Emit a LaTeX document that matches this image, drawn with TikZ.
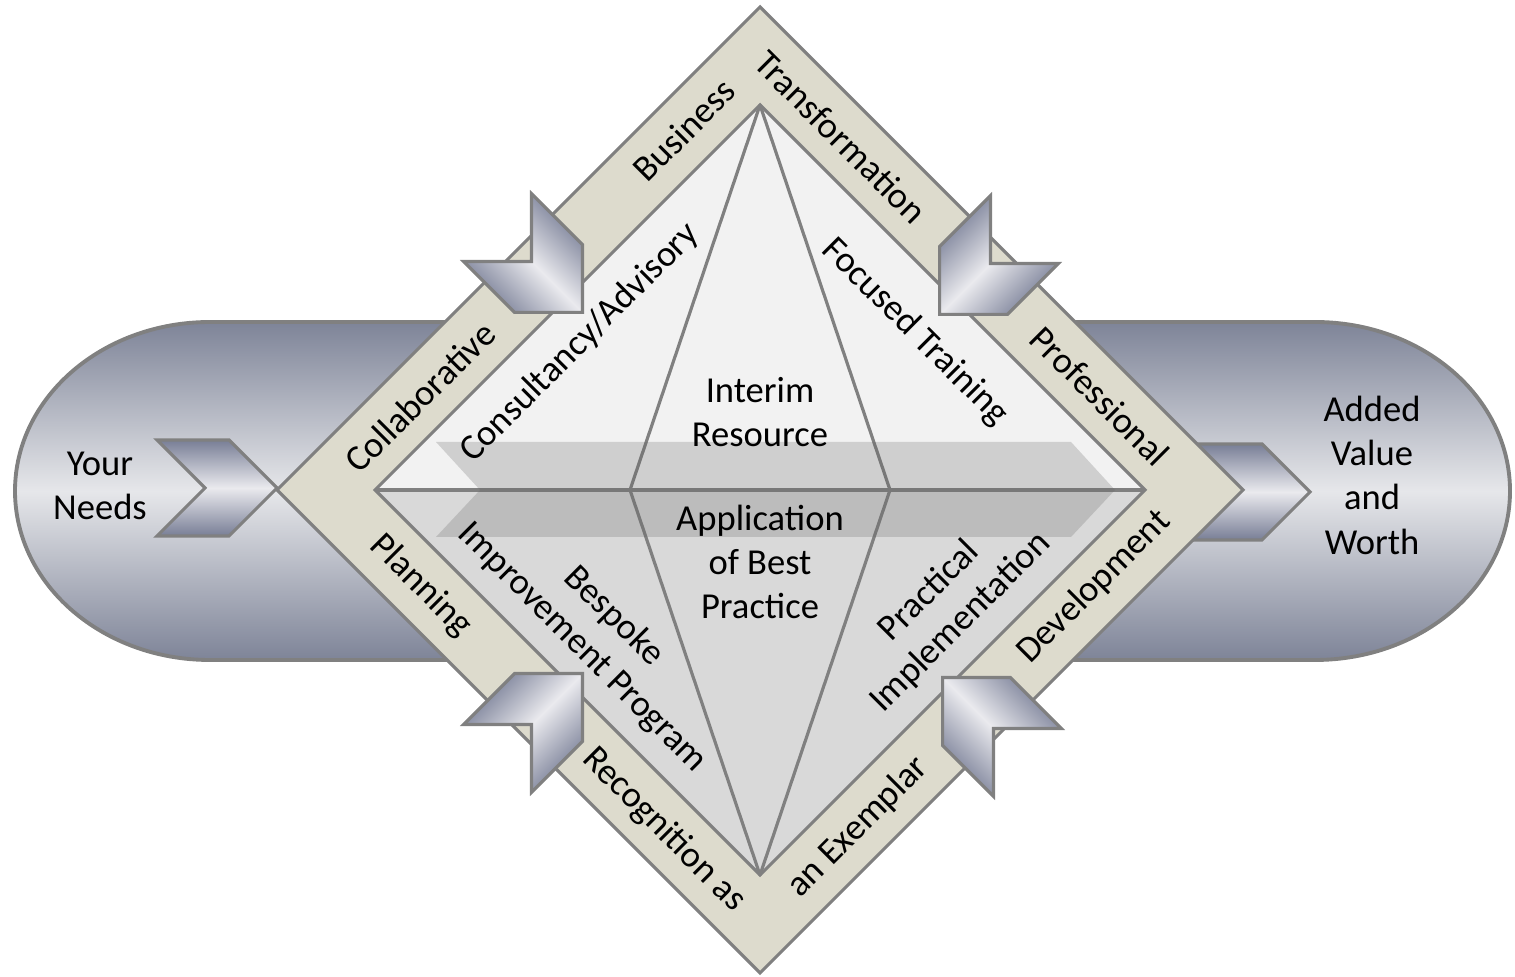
\documentclass[tikz,border=0pt]{standalone}
\usepackage{fontspec}
\setmainfont{Carlito}
\usetikzlibrary{calc}
\definecolor{capdark}{RGB}{126,132,152}
\definecolor{caplight}{RGB}{230,231,234}
\definecolor{chevdark}{RGB}{120,126,150}
\definecolor{chevlight}{RGB}{234,234,238}
\definecolor{bandfill}{RGB}{221,219,205}
\definecolor{framegray}{RGB}{128,128,128}
\definecolor{upperfill}{RGB}{242,242,242}
\definecolor{lowerfill}{RGB}{217,217,217}
\tikzstyle{chevron}=[draw=framegray,line width=0.9pt,top color=chevdark,bottom color=chevdark,middle color=chevlight]
\tikzstyle{frame}=[draw=framegray,line width=0.9pt]
\tikzstyle{txt}=[font=\fontsize{10.4}{12.6}\selectfont,align=center,inner sep=0pt]

\begin{document}
\begin{tikzpicture}[x=0.01cm,y=-0.01cm]
    \useasboundingbox (0,0) rectangle (1515,977);

    % capsule behind everything
    \path[frame,line width=1.1pt,top color=capdark,bottom color=capdark,middle color=caplight]
        (210,322) -- (1315,322) arc[start angle=-90,end angle=90,x radius=195,y radius=169]
        -- (210,660) arc[start angle=90,end angle=270,x radius=195,y radius=169] -- cycle;

    % side chevrons, partly under the diamond
    \foreach \cx/ \cy/ \ang in {217/488/0, 1250/492/0}
    {
        \begin{scope}[shift={(\cx,\cy)},rotate=\ang]
            \path[chevron,shading angle=\ang] (-60,-48) -- (12,-48) -- (60,0) -- (12,48) -- (-60,48) -- (-12,0) -- cycle;
        \end{scope}
    }

    % diamond corners
    \coordinate (otop) at (760,7);
    \coordinate (oright) at (1243,490);
    \coordinate (obot) at (760,973);
    \coordinate (oleft) at (277,490);
    \coordinate (itop) at (760,105);
    \coordinate (iright) at (1145,490);
    \coordinate (ibot) at (760,875);
    \coordinate (ileft) at (375,490);
    \coordinate (cl) at (630,490);
    \coordinate (cr) at (890,490);

    \fill[upperfill] (ileft) -- (itop) -- (iright) -- cycle;
    \fill[lowerfill] (ileft) -- (ibot) -- (iright) -- cycle;
    \path[frame,fill=bandfill,even odd rule] (otop) -- (oright) -- (obot) -- (oleft) -- cycle
        (itop) -- (iright) -- (ibot) -- (ileft) -- cycle;

    \draw[frame] (ileft) -- (iright);
    \draw[frame,line join=round] (cl) -- (itop) -- (cr) -- (ibot) -- cycle;

    % big see-through arrow
    \fill[black!62,opacity=0.24] (436,442) -- (1071,442) -- (1115,490) -- (1071,537) -- (436,537) -- (480,490) -- cycle;

    % chevrons pointing in
    \foreach \cx/ \cy/ \ang in {540/270/-45, 982/272/-135, 540/716/45, 985/720/135}
    {
        \begin{scope}[shift={(\cx,\cy)},rotate=\ang]
            \path[chevron,shading angle=\ang] (-60,-48) -- (12,-48) -- (60,0) -- (12,48) -- (-60,48) -- (-12,0) -- cycle;
        \end{scope}
    }

    % texts
    \node[txt] (needs) at (100,486) {Your\\Needs};
    \node[txt] (worth) at (1372,475) {Added\\Value\\and\\Worth};
    \node[txt] (interim) at (760,412) {Interim\\Resource};
    \node[txt] (best) at (760,562) {Application\\of Best\\Practice};

    \node[txt,rotate=45] (consult) at (580,343) {Consultancy/Advisory};
    \node[txt,rotate=-45] (training) at (915,332) {Focused Training};
    \node[txt,rotate=-45] (bespoke) at (598,632) {Bespoke\\Improvement Program};
    \node[txt,rotate=45] (practical) at (945,607) {Practical\\Implementation};

    \node[txt,rotate=45] (collab) at (420,397) {Collaborative};
    \node[txt,rotate=45] (business) at (684,130) {Business};
    \node[txt,rotate=-45] (transform) at (841,137) {Transformation};
    \node[txt,rotate=-45] (profess) at (1100,396) {Professional};
    \node[txt,rotate=-45] (planning) at (421,586) {Planning};
    \node[txt,rotate=-45] (recog) at (664,830) {Recognition as};
    \node[txt,rotate=45] (exemplar) at (858,827) {an Exemplar};
    \node[txt,rotate=45] (develop) at (1094,587) {Development};
\end{tikzpicture}
\end{document}
